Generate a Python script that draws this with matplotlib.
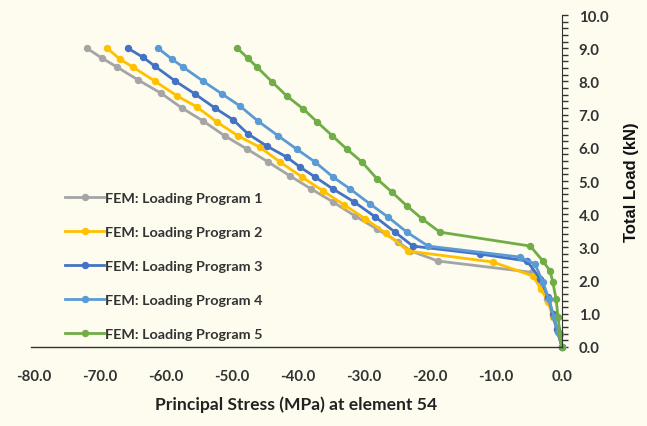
import matplotlib
matplotlib.use("Agg")
import matplotlib.pyplot as plt
from matplotlib.ticker import MultipleLocator, FormatStrFormatter

plt.rcParams['font.family'] = ['Lato', 'DejaVu Sans']
plt.rcParams['font.weight'] = 'bold'
plt.rcParams['axes.labelweight'] = 'bold'

# principal stress (MPa) and total load (kN)
stress_p1 = [-72.0, -69.7, -67.4, -64.2, -60.8, -57.6, -54.4, -51.1, -47.7, -44.5, -41.2,
             -38.0, -34.7, -31.4, -28.0, -24.8, -23.0, -18.8, -4.6, -3.2, -2.2, -1.4, -0.7, 0.0]
load_p1 = [9.0, 8.70, 8.43, 8.04, 7.65, 7.20, 6.81, 6.36, 5.96, 5.57, 5.15,
           4.76, 4.37, 3.95, 3.55, 3.16, 2.90, 2.59, 2.25, 1.85, 1.45, 1.0, 0.5, 0.0]

stress_p2 = [-68.9, -67.0, -65.0, -61.7, -58.3, -55.3, -52.3, -49.1, -45.8, -42.7, -39.4,
             -36.2, -33.0, -29.8, -26.7, -23.3, -10.5, -4.4, -3.2, -2.1, -1.4, -0.6, 0.0]
load_p2 = [9.0, 8.67, 8.43, 8.01, 7.56, 7.23, 6.78, 6.36, 6.02, 5.57, 5.12,
           4.70, 4.28, 3.86, 3.43, 2.89, 2.56, 2.14, 1.75, 1.36, 0.90, 0.45, 0.0]

stress_p3 = [-65.8, -63.5, -61.7, -58.6, -55.6, -52.6, -49.8, -47.6, -44.7, -41.7, -39.7, -37.4,
             -34.7, -31.5, -28.3, -25.3, -22.6, -12.4, -5.3, -3.3, -2.1, -1.4, -0.8, 0.0]
load_p3 = [9.0, 8.73, 8.46, 8.01, 7.62, 7.20, 6.84, 6.42, 6.05, 5.72, 5.42, 5.12,
           4.76, 4.37, 3.92, 3.46, 3.04, 2.80, 2.59, 2.05, 1.51, 0.99, 0.54, 0.0]

stress_p4 = [-61.2, -59.1, -57.4, -54.4, -51.5, -48.8, -46.1, -43.0, -40.2, -37.4, -34.7, -32.1,
             -29.1, -26.4, -23.5, -20.3, -6.4, -4.1, -2.9, -2.0, -1.2, -0.6, 0.0]
load_p4 = [9.0, 8.67, 8.43, 8.01, 7.62, 7.26, 6.81, 6.36, 5.96, 5.57, 5.12, 4.76,
           4.31, 3.92, 3.46, 3.04, 2.71, 2.50, 1.96, 1.45, 0.90, 0.45, 0.0]

stress_p5 = [-49.2, -47.6, -46.2, -43.9, -41.7, -39.2, -37.1, -34.8, -32.6, -30.3, -28.0, -25.8,
             -23.5, -21.2, -18.5, -4.8, -2.9, -1.8, -1.4, -0.9, -0.6, -0.3, 0.0]
load_p5 = [9.0, 8.70, 8.43, 7.98, 7.56, 7.17, 6.78, 6.36, 5.96, 5.57, 5.06, 4.67,
           4.25, 3.86, 3.46, 3.04, 2.59, 2.29, 1.96, 1.45, 0.90, 0.39, 0.0]

labels = ["FEM: Loading Program 1", "FEM: Loading Program 2", "FEM: Loading Program 3",
          "FEM: Loading Program 4", "FEM: Loading Program 5"]
colors = ["#a5a5a5", "#ffc000", "#4472c4", "#5b9bd5", "#70ad47"]

fig = plt.figure(figsize=(6.47, 4.27), dpi=100, facecolor="#fdfcef")
ax = fig.add_axes([30.7 / 647, 1 - 348 / 427, (562 - 30.7) / 647, 332 / 427])
ax.set_facecolor("none")

series = [(stress_p1, load_p1), (stress_p2, load_p2), (stress_p3, load_p3),
          (stress_p4, load_p4), (stress_p5, load_p5)]
for (xs, ys), lab, col in zip(series, labels, colors):
    ax.plot(xs, ys, color=col, lw=2.0, marker="o", ms=4.3, label=lab, clip_on=False)

ax.set_xlim(-80.5, 0)
ax.set_ylim(0, 10)

for s in ["top", "left"]:
    ax.spines[s].set_visible(False)
ax.spines["bottom"].set_color("#333333")
ax.spines["bottom"].set_linewidth(1.0)
ax.spines["right"].set_color("#333333")

ax.xaxis.set_major_locator(MultipleLocator(10))
ax.xaxis.set_major_formatter(FormatStrFormatter("%.1f"))
ax.tick_params(axis="x", length=0, pad=16, labelsize=10.8, labelcolor="#333333")

ax.yaxis.tick_right()
ax.yaxis.set_label_position("right")
ax.yaxis.set_major_locator(MultipleLocator(1))
ax.yaxis.set_minor_locator(MultipleLocator(0.2))
ax.yaxis.set_major_formatter(FormatStrFormatter("%.1f"))
ax.tick_params(axis="y", which="both", direction="out", length=4, width=1,
               color="#333333", pad=8, labelsize=10.8, labelcolor="#333333")

ax.set_xlabel("Principal Stress (MPa) at element 54", fontsize=12.6, color="#222222", labelpad=9)
ax.set_ylabel("Total Load (kN)", fontsize=12, color="#111111", labelpad=11,
              family=["Liberation Sans", "DejaVu Sans"])

ax.legend(loc="upper left", bbox_to_anchor=(52 / 647, 1 - 180 / 427), bbox_transform=fig.transFigure,
          frameon=False, fontsize=10.4, labelspacing=1.52, handlelength=2.7, handletextpad=0.1,
          labelcolor="#333333")

fig.savefig("out.png", dpi=100, facecolor=fig.get_facecolor())
